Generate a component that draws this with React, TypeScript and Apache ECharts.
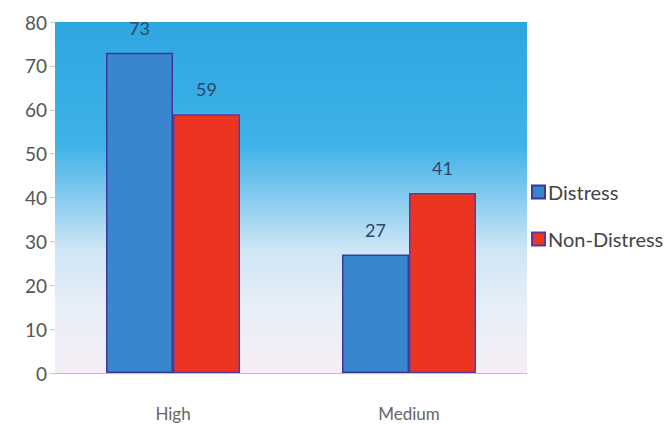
import React, { useEffect, useRef } from "react";
import * as echarts from "echarts";

const categories = ["High", "Medium"];
const distress = [73, 27];
const nonDistress = [59, 41];
const yTicks = [0, 10, 20, 30, 40, 50, 60, 70, 80];

export default function App() {
  const ref = useRef<HTMLDivElement>(null);
  useEffect(() => {
    if (!ref.current) return;
    const chart = echarts.init(ref.current, undefined, { renderer: "svg" });
    const font = "Lato, 'Open Sans', sans-serif";
    chart.setOption({
      animation: false,
      textStyle: { fontFamily: font },
      grid: {
        left: 55,
        top: 22,
        width: 472,
        height: 351,
        show: true,
        borderWidth: 0,
        backgroundColor: new echarts.graphic.LinearGradient(0, 0, 0, 1, [
          { offset: 0, color: "#2ea6e0" },
          { offset: 0.35, color: "#3fb2e8" },
          { offset: 0.5, color: "#86cbef" },
          { offset: 0.65, color: "#cfe6f6" },
          { offset: 0.82, color: "#e9eef8" },
          { offset: 1, color: "#f6eef6" },
        ]),
      },
      legend: {
        orient: "vertical",
        left: 526,
        top: 177,
        icon: "rect",
        itemWidth: 13,
        itemHeight: 13,
        itemGap: 27,
        textStyle: { fontSize: 20, color: "#444", fontFamily: font, padding: [0, 0, 0, -2] },
        data: ["Distress", "Non-Distress"],
      },
      xAxis: {
        type: "category",
        data: categories,
        axisLine: { show: true, lineStyle: { color: "#e4aac8", width: 1 } },
        axisTick: { show: false },
        axisLabel: { fontSize: 17, color: "#666", margin: 32 },
      },
      yAxis: {
        type: "value",
        min: yTicks[0],
        max: yTicks[yTicks.length - 1],
        interval: 10,
        splitLine: { show: false },
        axisLine: { show: false },
        axisTick: { show: true, length: 5, lineStyle: { color: "#ccc" } },
        axisLabel: { fontSize: 19, color: "#555", margin: 8 },
      },
      series: [
        {
          name: "Distress",
          type: "bar",
          data: distress,
          barWidth: 67,
          barGap: "0%",
          itemStyle: { color: "#3a86cc", borderColor: "#3b3a9c", borderWidth: 1.5 },
          label: { show: true, position: "top", distance: 16, fontSize: 18, color: "#2c4868" },
        },
        {
          name: "Non-Distress",
          type: "bar",
          data: nonDistress,
          barWidth: 67,
          barGap: "0%",
          itemStyle: { color: "#ec3520", borderColor: "#5a3aa0", borderWidth: 1.5 },
          label: { show: true, position: "top", distance: 16, fontSize: 18, color: "#2c4868" },
        },
      ],
    });
    return () => chart.dispose();
  }, []);
  return <div ref={ref} style={{ width: 666, height: 424, position: "absolute", left: 0, top: 0 }} />;
}
